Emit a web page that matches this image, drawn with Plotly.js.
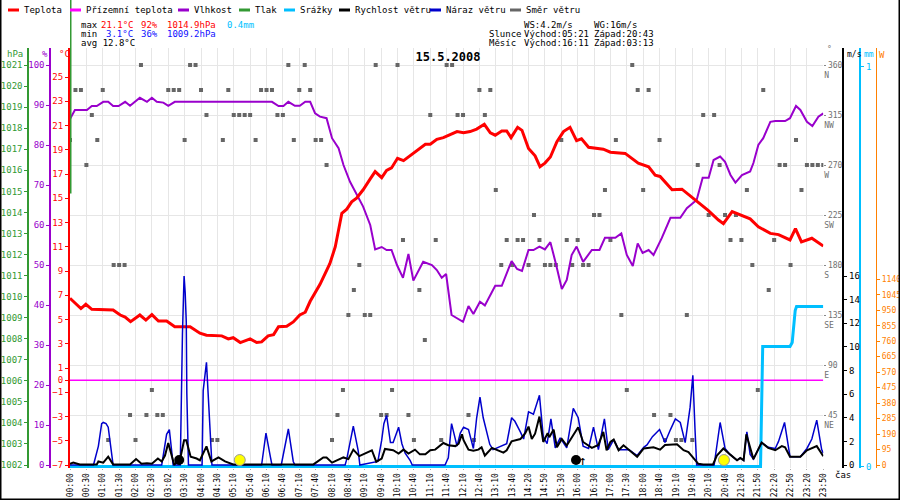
<!DOCTYPE html>
<html><head><meta charset="utf-8">
<script src="https://cdn.plot.ly/plotly-3.0.1.min.js"></script>
<style>html,body{margin:0;padding:0;background:#fff;}#chart{width:900px;height:500px;}</style>
</head><body><div id="chart"></div>
<script>
// ---------- DATA (x = sample index, every 3rd sample is labelled) ----------
const timeLabels = ["00:00","00:30","01:00","01:30","02:00","02:30","03:02","03:30","04:00","04:30",
  "05:10","05:40","06:10","06:40","07:10","07:40","08:10","08:40","09:10","09:40","10:10","10:40",
  "11:10","11:40","12:10","12:40","13:10","13:40","14:20","14:50","15:30","16:00","16:30","17:00",
  "17:30","18:00","18:40","19:10","19:40","20:10","20:40","21:20","21:50","22:20","22:50","23:20","23:50"];

const tempIdx = [0,2.0,2.9,4.0,7.9,9.2,10.1,11.1,12.8,13.9,15.0,16.2,17.7,19.2,22.0,23.8,25.0,27.8,29.0,29.9,
  31.2,33.0,34.2,35.1,36.3,37.3,38.2,39.7,40.9,42.1,43.1,44.0,45.8,47.6,48.6,49.8,50.7,51.6,52.5,53.7,
  55.0,55.9,57.1,58.0,58.9,60.0,61.1,63.2,65.1,66.0,67.2,68.4,70.9,72.1,73.3,74.5,75.9,77.0,77.9,79.1,
  80.0,80.8,82.0,82.8,84.0,85.2,86.1,87.0,88.0,89.2,90.4,91.6,92.8,93.7,95.0,97.7,99.0,101.7,104.1,106.0,
  107.2,108.1,110.3,112.1,114.8,116.9,118.8,119.7,121.3,122.5,124.6,126.1,128.3,129.8,131.9,132.9,134.0,135.9,138.0];
const tempVal = [6.75,5.9,6.25,5.84,5.78,5.37,5.2,4.82,5.37,4.95,5.4,4.87,4.87,4.4,4.4,3.87,3.7,3.65,3.4,3.5,
  3.1,3.4,3.1,3.15,3.65,3.75,4.4,4.45,4.8,5.37,5.6,6.5,7.9,9.6,11.0,13.76,14.1,14.7,15.0,15.7,
  16.6,17.2,16.7,17.3,17.5,18.3,18.1,18.84,19.45,19.45,19.86,20.0,20.5,20.4,20.5,20.7,21.1,20.4,20.2,20.55,
  20.55,20.0,20.85,20.6,19.1,18.5,17.6,17.9,18.4,19.67,20.5,20.85,19.75,19.9,19.2,19.05,18.8,18.7,17.9,17.6,
  16.9,16.8,15.7,15.75,14.8,14.0,13.2,12.9,13.9,13.7,13.3,12.65,12.1,12.0,11.56,12.5,11.4,11.7,11.06];

const groundIdx = [0,138];
const groundVal = [0,0];

const humIdx = [0,0.9,3.1,4.0,4.9,6.1,7.0,7.9,8.9,10.1,11.0,12.8,14.1,15.0,15.9,17.1,18.0,19.2,37.0,38.2,
  39.1,40.0,41.2,42.1,43.1,44.0,44.9,45.8,47.0,48.0,49.2,50.1,51.3,52.5,53.7,55.0,55.9,57.1,58.0,58.9,
  59.9,61.0,62.0,62.9,64.7,66.3,67.2,68.1,68.9,69.9,70.9,72.0,73.0,73.9,75.1,76.0,77.9,79.1,80.9,81.9,
  82.8,84.0,84.9,86.0,87.0,88.0,89.0,90.1,91.0,91.9,92.8,94.0,95.6,97.0,98.0,99.9,101.0,102.0,103.1,104.0,
  104.9,106.0,106.9,108.4,110.0,111.8,113.0,114.8,115.9,117.0,117.9,119.1,120.0,121.0,121.9,123.1,124.6,125.2,126.1,127.0,
  128.3,129.2,131.0,131.9,133.0,133.8,135.0,136.0,137.1,138.0];
const humVal = [86.5,88.75,88.75,89.75,89.75,90.8,90.8,89.75,89.75,90.8,89.8,91.8,90.8,91.8,90.8,90.6,89.8,90.8,90.8,89.75,
  89.75,90.8,89.8,89.8,90.8,90.8,87.9,87.1,86.7,81.7,79.2,75,70.8,67.5,64.6,60,53.9,54.5,53.75,53.75,
  50,46.8,52.75,46.1,50.8,50,48.75,46.8,47.75,37.5,36.75,35.8,39.75,37.75,40.8,39.9,44.8,44.8,51,49,
  48.5,53.75,53.75,54.6,53.9,55.7,50.4,44.0,46.25,52.5,54.6,50.8,53.75,53.75,56.8,56.8,57.9,52.5,49.75,55.4,
  53,53.75,52.5,56.7,61.8,61.8,64.2,66.25,71.8,71.8,76.25,77.1,75.8,72.5,70.6,72.5,73.4,75.5,80,81.7,
  85.8,86,86,86.7,89.75,88.75,85.8,84.75,87.1,87.9];

const pressIdx = [0,0];
const pressVal = [1014.9,1030];

const rainIdx = [0,126.5,126.9,131.9,132.3,132.6,132.85,133.1,138];
const rainVal = [0,0,0.3,0.3,0.31,0.35,0.39,0.4,0.4];

const windIdx = [0,0.6,1.8,4.9,5.2,6.1,7.0,7.9,11.0,12.1,13.1,14.1,15.0,16.1,16.8,17.4,18.0,18.6,19.1,19.6,
  20.2,20.9,21.3,22.1,23.2,23.8,25.0,25.9,27.2,28.4,29.9,44.6,46.4,47.0,48.0,50.1,51.0,51.9,53.0,55.3,
  56.1,57.1,57.7,59.2,60.2,61.1,62.0,63.2,64.1,65.1,66.0,66.9,68.4,69.3,70.6,71.2,71.8,72.1,73.0,73.9,
  74.8,75.4,76.0,77.3,79.4,80.0,80.9,82.5,83.4,84.0,84.6,85.2,86.0,86.7,87.5,87.8,88.6,89.2,90.1,91.0,
  93.1,94.0,95.6,96.8,97.7,98.3,99.0,99.6,100.5,101.4,102.4,103.9,105.1,106.9,108.1,109.0,111.2,112.4,113.3,114.2,
  115.1,116.0,117.8,118.5,119.7,120.9,122.2,122.8,123.4,123.9,124.6,125.2,126.7,127.9,129.2,130.4,131.0,131.9,133.8,135.0,
  136.8,138.0];
const windVal = [0.1,0.2,0.05,0.05,0.3,0.2,0.7,0.05,0.05,0.5,0.1,0.15,0.1,0.55,0.3,0.8,1.86,0.9,0,0.3,
  0.55,2.1,2.1,0.7,0.55,0.4,1.58,0.3,0.64,0.3,0.05,0.05,0.64,0.64,0.2,0.64,0.5,1.3,0.75,1.25,
  0.28,0.55,1.36,1.25,0.97,1.3,0.97,1.3,0.9,0.9,1.25,1.3,1.86,1.67,1.6,1.8,2.6,2.1,1.3,1.2,
  1.3,1.5,0.8,1.45,1.05,1.25,2.0,2.2,2.7,3.25,2.2,2.65,4.1,1.95,2.7,2.35,3.0,1.5,2.2,1.65,
  3.2,1.95,1.45,1.7,2.8,1.25,1.95,2.15,1.25,1.67,1.3,0.7,1.4,1.5,1.3,1.7,1.75,1.25,1.1,0.55,
  0.1,0.05,0.05,0.8,1.4,0.9,0.4,0.6,0.4,2.6,1.35,0.5,1.9,1.45,1.25,1.6,1.5,0.7,0.7,1.25,
  1.6,0.75];

const gustIdx = [0,4.3,5.2,5.8,6.1,6.6,7.0,7.6,7.9,
  16.8,17.4,17.7,18.2,18.5,18.9,
  20.2,20.4,20.6,20.8,20.9,21.1,21.3,21.4,21.7,
  24.2,24.4,25.0,25.3,25.7,26.0,
  35.1,35.9,36.7,37.0,38.7,40.0,40.9,41.2,
  50.4,50.7,51.9,52.8,53.1,
  56.4,57.1,57.5,58.0,58.3,58.7,59.2,59.7,60.2,60.8,61.4,62.3,62.7,
  68.7,69.3,69.9,70.6,70.9,71.5,72.1,73.0,73.9,74.5,75.1,75.7,76.9,77.5,
  80.0,80.9,81.5,82.5,83.1,84.0,84.9,86.0,86.7,87.4,88.1,88.9,89.8,91.0,92.2,93.1,94.0,95.0,95.9,96.8,
  97.9,98.6,99.6,100.5,102.4,103.9,105.1,105.7,106.7,108.0,109.0,110.0,110.9,111.8,112.7,113.6,114.1,114.5,114.8,
  118.0,118.2,119.1,120.0,120.9,122.2,122.8,123.4,124.0,124.6,125.2,126.7,127.9,129.2,129.8,130.9,131.9,133.8,
  135.0,135.9,136.8,137.7,138.0];
const gustVal = [0,0,1.6,3.5,3.6,3.5,3.2,1.1,0,
  0,1.5,2.6,3.0,1.5,0,
  0,8,11.1,14.4,16.0,14.6,12.1,6.1,0,
  0,6.3,8.7,6.0,2.2,0,
  0,2.7,0.7,0,0,3.05,0.3,0,
  0,0.5,3.3,1.2,0,
  0.3,2.1,3.5,4.2,3.0,1.9,1.9,2.6,3.2,1.8,1.0,0.4,0,
  0,0.6,3.5,2.1,1.6,2.7,3.2,3.0,1.4,4.0,5.75,4.0,1.75,1.3,
  1.8,4.0,3.7,2.8,2.2,4.5,4.3,5.9,2.4,1.8,3.9,1.45,2.3,1.45,4.8,4.0,1.6,1.4,3.2,1.3,
  3.9,1.3,2.15,1.3,1.3,0.8,1.5,1.7,2.4,3.0,1.9,3.0,3.9,3.6,1.9,4.9,7.6,3.0,0,
  0,0.7,3.6,1.4,0.9,0.4,0.6,0.4,2.8,0.9,0.5,1.9,1.5,1.4,2.0,3.6,0.7,0.7,
  1.4,2.2,3.8,1.3,1.0];

const dirVal = [292.5,337.5,337.5,270,315,292.5,337.5,22.5,180,180,
  180,45,22.5,360,45,67.5,45,45,337.5,337.5,
  337.5,292.5,360,360,337.5,315,22.5,22.5,292.5,337.5,
  315,315,315,315,292.5,337.5,337.5,337.5,315,315,
  360,292.5,337.5,360,337.5,292.5,292.5,270,22.5,45,
  67.5,135,157.5,180,135,135,360,45,45,67.5,
  360,202.5,45,22.5,157.5,112.5,315,202.5,22.5,360,
  360,315,315,45,22.5,337.5,315,337.5,247.5,180,
  202.5,180,202.5,202.5,180,225,202.5,180,180,180,
  292.5,202.5,180,202.5,180,180,225,225,247.5,202.5,
  292.5,135,67.5,360,337.5,247.5,337.5,45,292.5,22.5,
  45,22.5,22.5,135,22.5,270,315,225,315,270,
  225,202.5,225,202.5,247.5,180,67.5,337.5,157.5,202.5,
  270,270,180,292.5,247.5,270,270,270,270];

const sunIdx = [31.1, 119.8];     // východ 05:21, západ 20:43
const moonIdx = [20.0, 92.7];     // západ 03:13, východ 16:11
const iconLevel = [0.42, 0.42];

const tempTicks = [-7,-5,-3,-1,0,1,3,5,7,9,11,13,15,17,19,21,23,25];
const humTicks = [0,10,20,30,40,50,60,70,80,90,100];
const pressTicks = [1002,1003,1004,1005,1006,1007,1008,1009,1010,1011,1012,1013,1014,1015,1016,1017,1018,1019,1020,1021];
const dirTicks = [45,90,135,180,225,270,315,360];
const dirNames = ["NE","E","SE","S","SW","W","NW","N"];
const windTicks = [0,2,4,6,8,10,12,14,16];
const rainTicks = [0,1];
const radTicks = [0,95,190,285,380,475,570,665,760,855,950,1045,1140];

const legendNames = ["Teplota","Přízemní teplota","Vlhkost","Tlak","Srážky","Rychlost větru","Náraz větru","Směr větru"];

// ---------- STYLE / LAYOUT ----------
const W = 900, H = 500;
const px = x => x / W, py = y => 1 - y / H;
const FONT = 'DejaVu Sans Mono, monospace';
const C = {temp:'#ff0000', ground:'#ff00ff', hum:'#9900cc', press:'#339933', rain:'#00bfff',
  wind:'#000000', gust:'#0000cc', dir:'#666666', dirText:'#707070', rad:'#ff8000', max:'#ff0000', min:'#1010ff'};
const legendColors = [C.temp, C.ground, C.hum, C.press, C.rain, C.wind, C.gust, C.dir];
const legendX = [8, 70, 178, 239, 284, 339, 430, 510];

const L = 70, R = 823.3, T = 48, B = 468;
function rng(v0, y0, ppu) { return [v0 - (B - y0) / ppu, v0 + (y0 - T) / ppu]; }
const yDom = [1 - B / H, 1 - T / H];
const nSamples = dirVal.length;
const xRange = [0, nSamples - 1];
const dirPPU = 400 / 360;
const dirRange = rng(0, 465, dirPPU);
const letterOffsetPx = 10;   // compass letters sit one text line below the number
const dirLetterRange = dirRange.map(v => v + letterOffsetPx / dirPPU);

const traces = [
  {x: dirVal.map((_, i) => i), y: dirVal, yaxis: 'y', mode: 'markers', name: 'Směr větru',
   marker: {symbol: 'square', size: 4, color: C.dir}},
  {x: humIdx, y: humVal, yaxis: 'y2', mode: 'lines', name: 'Vlhkost', line: {color: C.hum, width: 2}},
  {x: tempIdx, y: tempVal, yaxis: 'y3', mode: 'lines', name: 'Teplota', line: {color: C.temp, width: 3}},
  {x: groundIdx, y: groundVal, yaxis: 'y3', mode: 'lines', name: 'Přízemní teplota', line: {color: C.ground, width: 1.5}},
  {x: [0], y: [null], yaxis: 'y4', mode: 'lines', name: 'tlak-osa', hoverinfo: 'skip'},
  {x: rainIdx, y: rainVal, yaxis: 'y5', mode: 'lines', name: 'Srážky', line: {color: C.rain, width: 3}},
  {x: gustIdx, y: gustVal, yaxis: 'y6', mode: 'lines', name: 'Náraz větru', line: {color: C.gust, width: 1.5}},
  {x: windIdx, y: windVal, yaxis: 'y6', mode: 'lines', name: 'Rychlost větru', line: {color: C.wind, width: 2}},
  {x: sunIdx, y: iconLevel, yaxis: 'y6', mode: 'markers', name: 'Slunce', cliponaxis: false,
   marker: {symbol: 'circle', size: 11, color: '#ffff00', line: {color: '#999999', width: 1}}},
  {x: moonIdx, y: iconLevel, yaxis: 'y6', mode: 'markers', name: 'Měsíc', cliponaxis: false,
   marker: {symbol: 'circle', size: 10, color: '#000000'}},
  {x: [0], y: [null], yaxis: 'y7', mode: 'lines', name: 'W-osa', hoverinfo: 'skip'},
  {x: pressIdx, y: pressVal, xaxis: 'x2', yaxis: 'y8', mode: 'lines', name: 'Tlak', line: {color: C.press, width: 3}},
  {x: [0], y: [null], yaxis: 'y9', mode: 'lines', name: 'směr-písmena', hoverinfo: 'skip'}
];
traces.forEach(t => { t.showlegend = false; });

function vAxis(color, range, ticks, extra) {
  return Object.assign({
    range: range, tickvals: ticks, ticks: 'outside', ticklen: 3, tickwidth: 1, tickcolor: color,
    showline: true, linecolor: color, linewidth: 2, showgrid: false, zeroline: false,
    tickfont: {family: FONT, size: 9, color: color}, fixedrange: true
  }, extra);
}

function ann(text, x, y, color, extra) {
  return Object.assign({text: text, x: px(x), y: py(y), xref: 'paper', yref: 'paper',
    xanchor: 'left', yanchor: 'middle', showarrow: false,
    font: {family: FONT, size: 9, color: color || '#000'}}, extra || {});
}

const annotations = [];
const shapes = [];
legendNames.forEach((n, k) => {
  shapes.push({type: 'line', xref: 'paper', yref: 'paper', x0: px(legendX[k]), x1: px(legendX[k] + 11),
    y0: py(10), y1: py(10), line: {color: legendColors[k], width: 3}});
  annotations.push(ann(n, legendX[k] + 14, 9.5, '#000'));
});
// statistics
annotations.push(ann('max', 79, 24.5), ann('21.1°C', 99, 24.5, C.max), ann('92%', 139, 24.5, C.max),
  ann('1014.9hPa', 165, 24.5, C.max), ann('0.4mm', 225, 24.5, C.rain),
  ann('min', 79, 34), ann('3.1°C', 104, 34, C.min), ann('36%', 139, 34, C.min), ann('1009.2hPa', 165, 34, C.min),
  ann('avg 12.8°C', 79, 43.5),
  ann('WS:4.2m/s', 522, 24.5), ann('WG:16m/s', 592, 24.5),
  ann('Slunce', 487, 34), ann('Východ:05:21', 522, 34), ann('Západ:20:43', 592, 34),
  ann('Měsíc', 487, 43.5), ann('Východ:16:11', 522, 43.5), ann('Západ:03:13', 592, 43.5));
// axis headers
annotations.push(ann('hPa', 5, 54, C.press), ann('%', 40, 54, C.hum), ann('°C', 57, 54, C.temp),
  ann('°', 825, 50, C.dirText, {font: {family: FONT, size: 8, color: C.dirText}}),
  ann('m/s', 845, 55, '#000', {font: {family: FONT, size: 8, color: '#000'}}),
  ann('mm', 862, 55, C.rain, {font: {family: FONT, size: 8, color: C.rain}}),
  ann('W', 877, 55, C.rad), ann('čas', 833, 475, '#000'));
// moonrise arrow
annotations.push({text: '↑', x: 93.9, y: 0.42, xref: 'x', yref: 'y6', showarrow: false,
  xanchor: 'center', yanchor: 'middle', font: {family: FONT, size: 13, color: '#000'}});

// frame (left, bottom, right)
shapes.push({type: 'path', xref: 'paper', yref: 'paper', path: 'M 0 1.05 L 0 0 L 1 0 L 1 1.05',
  line: {color: '#000', width: 3}});

const layout = {
  width: W, height: H, margin: {l: 0, r: 0, t: 0, b: 0, autoexpand: false},
  paper_bgcolor: '#ffffff', plot_bgcolor: 'rgba(0,0,0,0)',
  font: {family: FONT, size: 9, color: '#000'},
  showlegend: false,
  title: {text: '<b>15.5.2008</b>', x: px(448), y: py(57), xref: 'container', yref: 'container',
    xanchor: 'center', yanchor: 'middle', font: {family: FONT, size: 12, color: '#000'}},
  xaxis: {domain: [px(L), px(R)], range: xRange, anchor: 'y',
    tickvals: timeLabels.map((_, k) => 3 * k), ticktext: timeLabels, tickangle: -90,
    showgrid: true, gridcolor: '#e6e6e6', gridwidth: 1, ticks: 'outside', ticklen: 1, tickcolor: '#aaaaaa',
    showline: false, zeroline: false, tickfont: {family: FONT, size: 8, color: '#000'}, fixedrange: true},
  yaxis: {domain: yDom, range: dirRange, side: 'right', anchor: 'x',
    tickvals: dirTicks, ticktext: dirTicks.map(String),
    ticks: 'outside', ticklen: 2, tickcolor: '#888888', showline: false, zeroline: false,
    showgrid: true, gridcolor: '#e6e6e6', gridwidth: 1,
    tickfont: {family: FONT, size: 8, color: C.dirText}, fixedrange: true},
  yaxis9: {overlaying: 'y', anchor: 'x', side: 'right', range: dirLetterRange,
    tickvals: dirTicks, ticktext: dirNames, ticks: '', showline: false, showgrid: false, zeroline: false,
    tickfont: {family: FONT, size: 8, color: C.dirText}, fixedrange: true},
  yaxis2: vAxis(C.hum, rng(0, 465, 4), humTicks, {overlaying: 'y', anchor: 'free', position: px(50.3), side: 'left'}),
  yaxis3: vAxis(C.temp, rng(-7, 465, 12.125), tempTicks, {overlaying: 'y', anchor: 'x', side: 'left'}),
  yaxis4: vAxis(C.press, rng(1002, 465, 21.05), pressTicks, {overlaying: 'y', anchor: 'free', position: px(28.3), side: 'left'}),
  yaxis5: vAxis(C.rain, rng(0, 466.5, 400), rainTicks, {overlaying: 'y', anchor: 'free', position: px(860.3), side: 'right'}),
  yaxis6: vAxis('#000000', rng(0, 465, 11.81), windTicks, {overlaying: 'y', anchor: 'free', position: px(843.3), side: 'right'}),
  yaxis7: vAxis(C.rad, rng(0, 465, 0.16292), radTicks, {overlaying: 'y', anchor: 'free', position: px(875.7), side: 'right', linewidth: 1.5,
    tickfont: {family: FONT, size: 8, color: C.rad}}),
  xaxis2: {domain: [px(L), px(R)], range: xRange, anchor: 'y8', visible: false, fixedrange: true},
  yaxis8: {domain: [1 - B / H, 1], range: [1002 - (B - 465) / 21.05, 1002 + 465 / 21.05], anchor: 'x2', visible: false, fixedrange: true},
  annotations: annotations,
  shapes: shapes
};

Plotly.newPlot('chart', traces, layout, {displayModeBar: false, staticPlot: true});
</script>
</body></html>
